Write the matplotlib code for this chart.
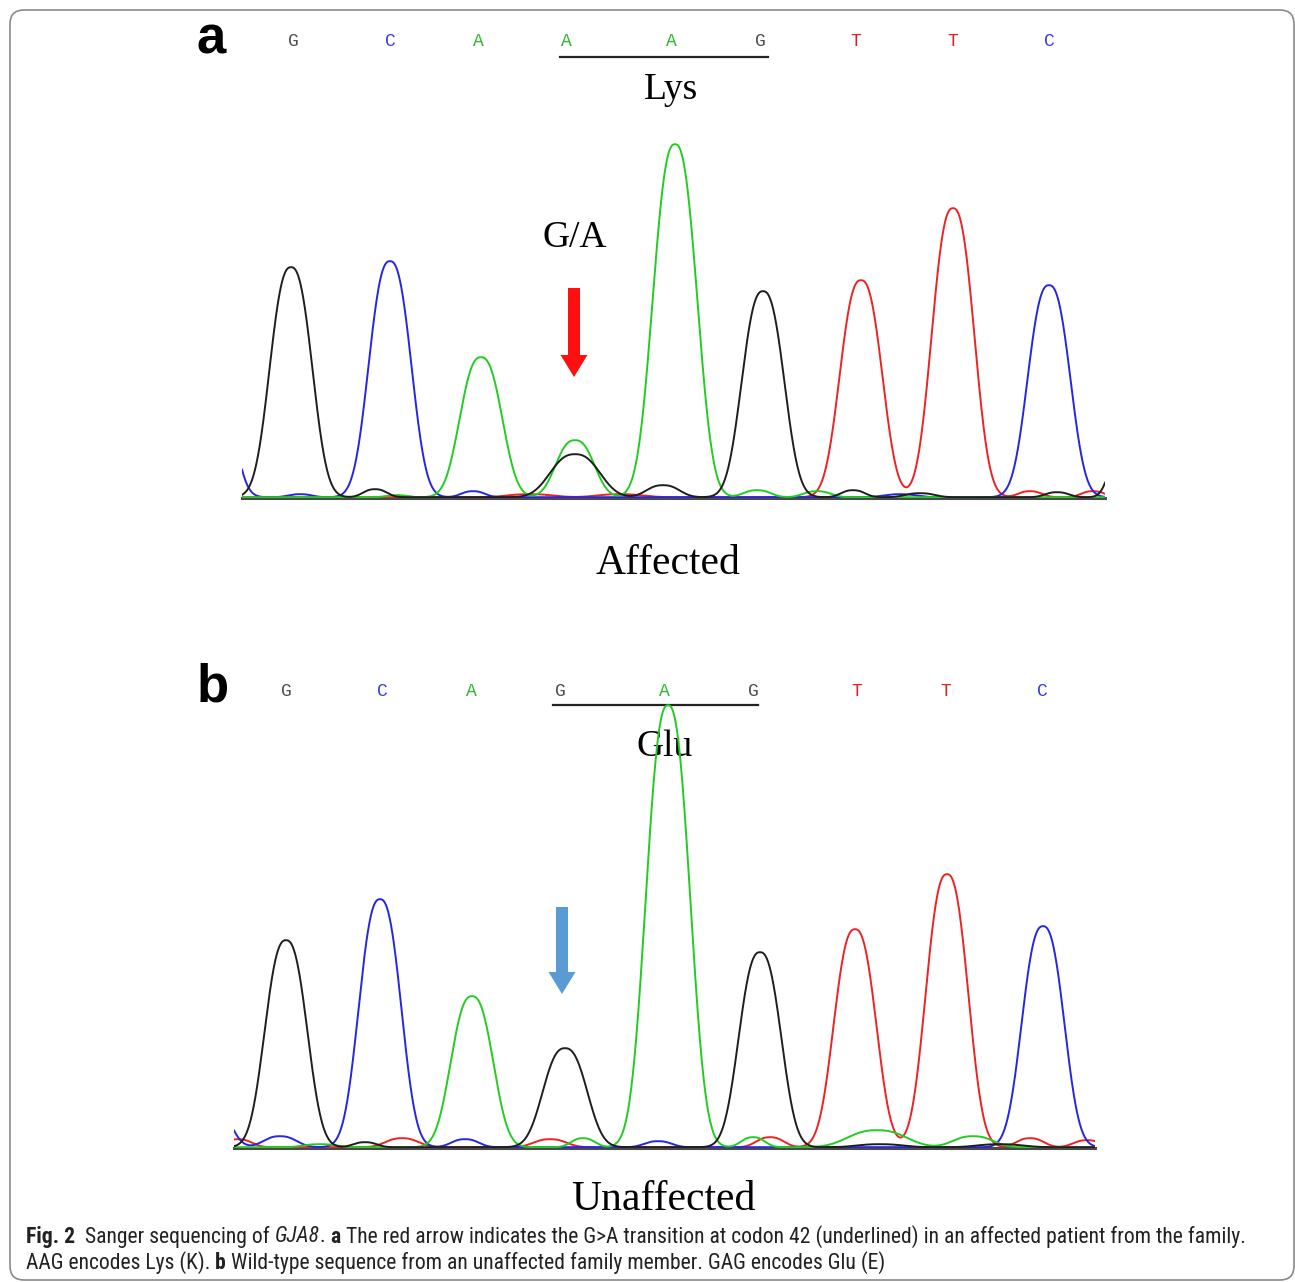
import matplotlib
matplotlib.use("Agg")
import matplotlib.pyplot as plt
import numpy as np
from matplotlib import font_manager as fm
from matplotlib.patches import FancyBboxPatch, FancyArrow

W, H = 1295, 1282

# base calls shown above each trace
bases_a = ["G", "C", "A", "A", "A", "G", "T", "T", "C"]
base_x_a = [293, 390, 478, 566, 671, 760, 856, 953, 1049]
bases_b = ["G", "C", "A", "G", "A", "G", "T", "T", "C"]
base_x_b = [286, 382, 471, 560, 664, 753, 857, 946, 1042]

# peaks for each dye channel: centres, heights, half widths (scan units)
peaks_a = {
    "G": ([291, 575, 763, 375, 663, 853, 920, 1057, 1125],
          [230, 43, 206, 8, 12, 7, 4, 5, 60],
          [23, 27, 23, 13, 18, 13, 16, 13, 15]),
    "C": ([215, 390, 1049, 473, 300, 900],
          [120, 236, 212, 6, 3, 3],
          [20, 23, 23, 13, 13, 18]),
    "A": ([481, 575, 675, 757, 817, 397],
          [140, 57, 353, 7, 6, 2],
          [23, 21, 24, 15, 15, 12]),
    "T": ([861, 953, 1030, 1093, 530, 620],
          [217, 289, 6, 6, 3, 3],
          [23, 23, 13, 13, 25, 25]),
}
peaks_b = {
    "G": ([286, 565, 760, 365, 880, 1000],
          [207, 99, 195, 5, 3, 3],
          [23, 24, 23, 13, 25, 25]),
    "C": ([210, 380, 1043, 280, 465, 658],
          [50, 248, 221, 11, 8, 6],
          [20, 23, 23, 18, 15, 15]),
    "A": ([472, 668, 320, 583, 753, 877, 973],
          [151, 442, 3, 9, 10, 17, 11],
          [23, 24, 18, 13, 13, 32, 22]),
    "T": ([855, 947, 238, 402, 550, 770, 1030, 1087],
          [218, 273, 8, 9, 8, 10, 9, 7],
          [23, 23, 15, 18, 18, 15, 15, 15]),
}

trace_colors = {"G": "#1e1e1e", "C": "#2525e6", "A": "#22cc22", "T": "#ee2222"}
letter_colors = {"G": "#4d4d4d", "C": "#3b3bd8", "A": "#2fb82f", "T": "#dd2020"}


def pick(*names):
    for n in names:
        try:
            fm.findfont(n, fallback_to_default=False)
            return n
        except ValueError:
            pass
    return "DejaVu Sans"


SERIF = pick("Liberation Serif", "DejaVu Serif")
MONO = pick("Liberation Mono", "DejaVu Sans Mono")
SANS = pick("Liberation Sans", "DejaVu Sans")
CAP = pick("Liberation Sans Narrow", "Roboto Condensed", "Roboto", "Open Sans")

fig = plt.figure(figsize=(W / 100, H / 100), dpi=100)
ax0 = fig.add_axes([0, 0, 1, 1])
ax0.set_xlim(0, W)
ax0.set_ylim(H, 0)
ax0.axis("off")

ax0.add_patch(FancyBboxPatch((10, 10), 1284, 1270,
                             boxstyle="round,pad=0,rounding_size=14",
                             fc="white", ec="#8a8a8a", lw=1.2))


def chromatogram(peaks, x0, x1, base_y, top_y):
    ax = fig.add_axes([x0 / W, 1 - base_y / H, (x1 - x0) / W, (base_y - top_y) / H])
    ax.set_xlim(x0, x1)
    ax.set_ylim(0, base_y - top_y)
    ax.axis("off")
    xs = np.linspace(x0, x1, 2000)
    ax.axhline(0, color="#4a4a4a", lw=2.2, clip_on=False, zorder=1)
    for base in ["T", "C", "A", "G"]:
        cen, hts, wid = peaks[base]
        y = np.zeros_like(xs)
        for c, h, s in zip(cen, hts, wid):
            y += h * np.exp(-np.log(2) * np.abs((xs - c) / s) ** 2.5)
        ax.plot(xs, y + 0.8, color=trace_colors[base], lw=1.4, zorder=2)
    return ax


chromatogram(peaks_a, 242, 1105, 498, 130)
chromatogram(peaks_b, 234, 1095, 1148, 690)


def base_row(bases, xs, y):
    for b, x in zip(bases, xs):
        ax0.text(x, y, b, color=letter_colors[b], fontsize=13, family=MONO,
                 ha="center", va="center")


base_row(bases_a, base_x_a, 42)
base_row(bases_b, base_x_b, 692)

ax0.plot([560, 768], [57, 57], color="#222222", lw=1.6)
ax0.plot([553, 758], [705, 705], color="#222222", lw=1.6)

ax0.text(211, 40, "a", fontsize=38, fontweight="bold", family=SANS, ha="center", va="center")
ax0.text(213, 688, "b", fontsize=38, fontweight="bold", family=SANS, ha="center", va="center")

ax0.text(671, 90, "Lys", fontsize=27, family=SERIF, ha="center", va="center")
ax0.text(665, 747, "Glu", fontsize=27, family=SERIF, ha="center", va="center")
ax0.text(575, 238, "G/A", fontsize=27, family=SERIF, ha="center", va="center")
ax0.text(668, 564, "Affected", fontsize=30, family=SERIF, ha="center", va="center")
ax0.text(663, 1200, "Unaffected", fontsize=30, family=SERIF, ha="center", va="center")

ax0.add_patch(FancyArrow(574, 288, 0, 89, width=12, head_width=27, head_length=22,
                         length_includes_head=True, color="#ff1010", lw=0))
ax0.add_patch(FancyArrow(562, 907, 0, 87, width=12, head_width=27, head_length=22,
                         length_includes_head=True, color="#5b9bd5", lw=0))

# caption with mixed styles
line1 = [("Fig. 2", "bold", "normal"), ("  Sanger sequencing of ", "normal", "normal"),
         ("GJA8", "normal", "italic"), (". ", "normal", "normal"), ("a", "bold", "normal"),
         (" The red arrow indicates the G>A transition at codon 42 (underlined) in an affected patient from the family.",
          "normal", "normal")]
line2 = [("AAG encodes Lys (K). ", "normal", "normal"), ("b", "bold", "normal"),
         (" Wild-type sequence from an unaffected family member. GAG encodes Glu (E)", "normal", "normal")]

renderer = fig.canvas.get_renderer()


def rich(parts, x, y, size, draw=True):
    texts = []
    for s, wt, st in parts:
        t = ax0.text(x, y, s, fontsize=size, fontweight=wt, fontstyle=st, family=CAP,
                     ha="left", va="center", color="#222222")
        x += t.get_window_extent(renderer).width
        texts.append(t)
    if not draw:
        for t in texts:
            t.remove()
    return x


trial = 13
end = rich(line1, 26, 1237, trial, draw=False)
size = trial * (1240 - 26) / (end - 26)
rich(line1, 26, 1237, size)
rich(line2, 26, 1263, size)

fig.savefig("out.png", dpi=100)
